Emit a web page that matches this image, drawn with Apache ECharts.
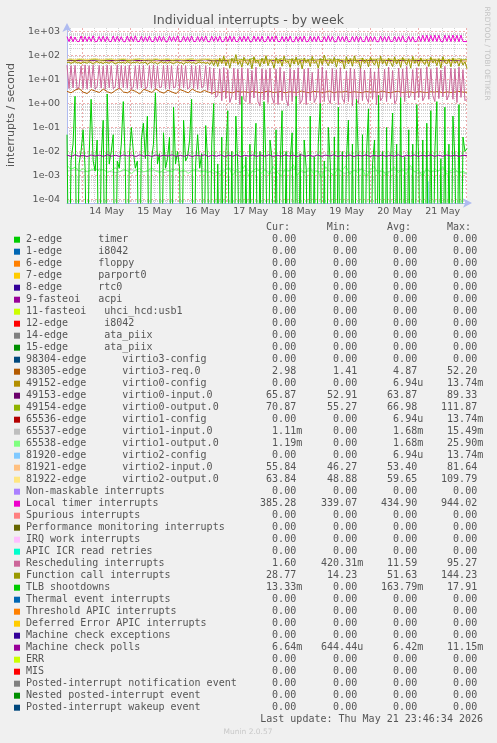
<!DOCTYPE html>
<html><head><meta charset="utf-8">
<script src="https://cdn.jsdelivr.net/npm/echarts@6/dist/echarts.min.js"></script>
<style>html,body{margin:0;padding:0;background:#F0F0F0;}#c{width:497px;height:743px;}</style>
</head><body><div id="c"></div>
<script>
// ---------------- data ----------------
const titleText = 'Individual interrupts - by week';
const yAxisTitle = 'interrupts / second';
const dayLabels = ['14 May','15 May','16 May','17 May','18 May','19 May','20 May','21 May'];
const dayNoonHours = [12,36,60,84,108,132,156,180];        // hours after 14 May 00:00
const dayStartHours = [0,24,48,72,96,120,144,168,192];
const yDecades = [-4,-3,-2,-1,0,1,2,3];                      // log10 of tick values
const tStart = -7.85, tEnd = 192.15;                          // visible time window (hours)
const yLogMin = -4.154, yLogMax = 3.153;

// legend table
const names = [
'2-edge      timer','1-edge      i8042','6-edge      floppy','7-edge      parport0','8-edge      rtc0',
'9-fasteoi   acpi','11-fasteoi   uhci_hcd:usb1','12-edge      i8042','14-edge      ata_piix','15-edge      ata_piix',
'98304-edge      virtio3-config','98305-edge      virtio3-req.0','49152-edge      virtio0-config',
'49153-edge      virtio0-input.0','49154-edge      virtio0-output.0','65536-edge      virtio1-config',
'65537-edge      virtio1-input.0','65538-edge      virtio1-output.0','81920-edge      virtio2-config',
'81921-edge      virtio2-input.0','81922-edge      virtio2-output.0',
'Non-maskable interrupts','Local timer interrupts','Spurious interrupts','Performance monitoring interrupts',
'IRQ work interrupts','APIC ICR read retries','Rescheduling interrupts','Function call interrupts','TLB shootdowns',
'Thermal event interrupts','Threshold APIC interrupts','Deferred Error APIC interrupts','Machine check exceptions',
'Machine check polls','ERR','MIS','Posted-interrupt notification event','Nested posted-interrupt event',
'Posted-interrupt wakeup event'];
const colors = ['#00CC00','#0066B3','#FF8000','#FFCC00','#330099','#990099','#CCFF00','#FF0000','#808080','#008F00',
'#00487D','#B35A00','#B38F00','#6B006B','#8FB300','#B30000','#BEBEBE','#80FF80','#80C9FF','#FFC080','#FFE680',
'#AA80FF','#EE00CC','#FF8080','#666600','#FFBFFF','#00FFCC','#CC6699','#999900','#00CC00','#0066B3','#FF8000',
'#FFCC00','#330099','#990099','#CCFF00','#FF0000','#808080','#008F00','#00487D'];
const curVals = [0,0,0,0,0,0,0,0,0,0, 0,2.98,0,65.87,70.87,0,1.11e-3,1.19e-3,0,55.84,63.84,
0,385.28,0,0,0,0,1.60,28.77,13.33e-3,0,0,0,0,6.64e-3,0,0,0,0,0];
const minVals = [0,0,0,0,0,0,0,0,0,0, 0,1.41,0,52.91,55.27,0,0,0,0,46.27,48.88,
0,339.07,0,0,0,0,420.31e-3,14.23,0,0,0,0,0,644.44e-6,0,0,0,0,0];
const avgVals = [0,0,0,0,0,0,0,0,0,0, 0,4.87,6.94e-6,63.87,66.98,6.94e-6,1.68e-3,1.68e-3,6.94e-6,53.40,59.65,
0,434.90,0,0,0,0,11.59,51.63,163.79e-3,0,0,0,0,6.42e-3,0,0,0,0,0];
const maxVals = [0,0,0,0,0,0,0,0,0,0, 0,52.20,13.74e-3,89.33,111.87,13.74e-3,15.49e-3,25.90e-3,13.74e-3,81.64,109.79,
0,944.02,0,0,0,0,95.27,144.23,17.91,0,0,0,0,11.15e-3,0,0,0,0,0];
const lastUpdate = 'Last update: Thu May 21 23:46:34 2026';

// plotted series (evenly spread over the time window)
const locTimer = [
620,385,640,380,600,390,385,660,380,630, 385,620,390,670,380,395,630,385,650,380,
620,390,385,660,380,635,390,620,385,380, 655,390,625,380,670,385,390,640,380,620,
385,650,390,385,620,380,660,390,630,385, 380,650,390,620,385,670,380,390,645,385,
620,380,655,390,385,630,380,620,390,660, 385,380,645,390,625,385,650,380,390,620,
385,665,380,630,390,385,620,380,655,390, 630,385,380,660,390,620,385,645,380,390,
650,385,625,380,670,390,385,630,380,620, 390,655,385,380,630,390,620,385,660,380,
390,645,385,620,380,650,390,385,625,380, 670,390,630,385,380,650,390,620,385,660,
380,390,630,385,650,380,620,390,385,665, 380,630,390,620,385,380,655,390,625,380,
650,385,390,630,380,620,385,670,390,380, 645,385,620,380,390,650,385,700,390,710,
380,690,395,720,385,700,390,380,710,390, 690,385,720,390,700,380,710,390,385,385.28];
const resched = [
40,4.2,38,4.5,39,4.0,5.0,37,4.3,41, 4.1,38,4.6,40,4.0,5.2,39,4.4,37,4.0,
40,4.5,38,4.2,5.0,41,4.1,39,4.6,37, 4.3,40,4.0,4.8,38,4.2,40,4.5,39,4.0,
5.1,38,4.3,41,4.1,37,4.6,4.9,39,4.2, 40,4.0,38,4.5,5.0,37,4.2,40,4.4,38,
4.1,4.7,39,4.3,37,4.0,40,4.6,5.2,38, 3.5,33,2.4,30,1.8,2.2,28,1.3,32,1.6,
26,1.1,2.0,30,1.4,27,0.9,31,1.5,1.2, 29,1.0,24,1.7,33,1.2,0.8,28,1.4,26,
1.1,30,1.8,1.0,27,0.9,32,1.3,22,1.5, 0.8,29,1.2,25,1.6,31,1.0,1.4,27,0.9,
30,1.3,20,1.1,1.7,28,0.8,33,1.2,24, 1.5,1.0,29,1.3,26,0.9,31,1.6,1.1,23,
1.2,30,0.8,27,1.4,1.0,32,1.3,25,1.7, 1.1,29,1.5,21,0.9,30,1.3,1.8,27,1.2,
33,1.6,24,1.0,1.4,30,1.9,28,1.2,35, 1.7,2.2,26,1.4,31,1.8,29,1.3,2.0,34,
1.5,27,2.1,1.2,32,1.6,25,1.9,36,1.4, 2.3,30,1.5,28,1.1,33,1.8,26,1.3,1.6];
const funcCall = [
50,54,47,52,56,49,51,46,54,52, 48,55,51,44,53,57,49,52,46,54,
51,48,56,52,45,50,54,49,53,47, 55,51,48,53,50,56,46,52,49,54,
42,50,55,48,52,44,51,57,49,53, 47,54,50,46,52,55,49,51,43,54,
50,56,48,52,45,51,54,49,53,46, 52,42,58,38,66,35,80,46,95,38,
65,30,75,50,110,42,60,33,85,55, 40,72,28,90,50,62,35,78,45,100,
38,68,55,30,82,47,70,36,95,52, 60,32,75,44,88,40,65,28,80,50,
70,35,92,48,58,30,76,42,105,55, 38,68,46,85,33,72,50,62,28,90,
45,75,36,98,52,64,30,80,48,70, 34,86,55,40,72,30,95,46,66,38,
78,52,35,88,44,70,32,84,58,40, 74,30,92,48,65,36,80,55,42,70,
35,86,50,68,38,75,30,90,52,45, 72,34,80,48,62,36,70,40,55,28.77];
const tlbShootdowns = [
0.05,0,0.004,0.02,2.0,0,0.003,0.01,0.08,0.002, 0,0.006,1.5,0.004,0.0015,0.03,0,0.005,0.2,0,
2.5,0.003,0.01,0.05,0,0.004,0.002,0.02,1.2,0.003, 0,0.006,0.1,0.01,0.002,0.004,0,0.03,0.15,0.005,
0.3,0,0.004,0.02,2.8,0.003,0.008,0,0.06,0.002, 0.005,0.04,0,0.7,0.003,0.01,0.002,0,0.2,0.004,
0.006,0.03,1.5,0,0.003,0.05,0.002,0.008,0,0.12, 0.004,0,0.02,1.0,0,0.003,0,0.04,0,0.008,
0.5,0,0.01,0,0.3,0.002,0,2.0,0,0.006, 0,0.02,0,0.004,0.15,0,0.01,0,1.2,0.003,
0,0.03,0.005,0,0.08,0,0.002,0.5,0,0.01, 0,0.004,0.06,0,2.0,0,0.008,0,0.03,0.002,
0,0.3,0,0.006,0,0.02,1.0,0,0.004,0, 0.1,0.003,0,0.04,0,0.7,0,0.01,0,0.005,
0.2,0,0.02,0,1.5,0.004,0,0.05,0,0.008, 0.6,0,0.003,0.03,0,2.2,0,0.01,0,0.1,
0,0.005,0.4,0,0.02,0,1.8,0,0.006,0, 0.08,0,0.02,0,0.9,0.004,0,0.03,0,0.15,
0,0.5,0,0.01,1.2,0,0.005,0,0.7,0, 0.02,0,0.3,0.004,0,0.9,0,0.04,0.01,0.01333];
const virtio0Out = [
66,68,64,70,67,65,69,72,66,64, 68,71,65,67,70,63,66,69,72,65, 67,64,70,68,66,71,63,67,69,65,
68,72,66,64,70,67,65,69,63,68, 66,73,62,70,65,68,75,61,67,71, 64,69,66,74,62,68,70,65,72,63,
67,71,64,69,66,73,62,70,68,65, 71,64,67,75,63,69,66,72,65,68, 70,62,67,73,64,69,66,71,63,68,
72,65,67,70,64,69,66,73,68,70.87];
const virtio0In = [
64,62,65,63,66,61,64,63,65,62, 64,66,61,63,65,62,64,67,60,63, 65,62,64,61,66,63,62,65,64,61,
63,66,62,64,60,65,63,62,66,64, 61,63,65,62,64,66,61,63,64,65.87];
const virtio2In = [
54,52,55,53,51,56,54,52,55,53, 52,55,53,51,54,56,52,53,55,51, 54,53,56,52,50,55,53,54,51,56,
53,52,55,54,51,53,56,52,54,50, 55,53,51,56,52,54,53,50,55,52, 56,51,54,53,49,55,52,57,51,54,
53,50,56,52,55,51,54,57,50,53, 55,52,49,56,53,51,55,52,54,50, 56,53,51,55,52,57,50,54,53,51,
55,52,56,50,54,53,51,55,53,55.84];
const virtio2Out = [
70,72,69,73,71,68,72,74,70,69, 73,71,68,72,74,70,69,73,71,67, 72,70,74,69,71,73,68,72,70,69,
73,71,67,72,70,74,68,71,69,72, 66,64,68,62,67,65,61,69,63,66, 64,68,62,70,65,63,67,61,66,69,
63,67,65,60,68,64,66,62,69,65, 70,72,68,73,66,71,74,67,72,69, 73,70,68,74,71,67,72,70,73,68,
71,74,69,72,67,70,73,68,66,63.84];
const virtio3Req = [
3.2,2.8,3.6,4.2,3.0,2.6,3.8,3.3,2.9,4.0, 3.1,2.7,3.5,4.4,3.0,2.8,3.7,3.2,2.5,3.9,
3.4,2.9,4.1,3.1,2.7,3.6,3.0,2.6,3.8,3.3, 2.8,4.0,3.2,2.9,3.5,3.0,2.7,3.1,2.9,3.2,
3.0,2.8,3.3,3.0,3.1,2.9,3.2,3.0,2.8,3.1, 3.3,2.9,3.0,3.2,2.8,3.1,3.0,2.9,3.3,3.0,
2.8,3.2,3.1,2.9,3.0,3.3,2.8,3.1,3.0,3.2, 2.9,3.1,3.0,2.8,3.2,3.0,3.1,2.9,3.3,3.0,
2.8,3.1,3.2,2.9,3.0,3.1,2.8,3.2,3.0,2.9, 3.1,3.0,3.2,2.8,3.1,2.9,3.0,3.2,3.0,2.98];
const virtio1OutMilli = [
2.6,1.8,2.2,1.5,1.9,1.4,1.7,2.0,1.5,1.8, 1.3,1.6,2.1,1.4,1.8,1.5,1.2,1.7,1.9,1.4,
1.6,2.0,1.5,1.3,1.8,1.6,1.4,1.9,1.5,1.7, 1.2,1.6,1.8,1.4,1.5,1.3,1.7,1.4,1.1,1.5,
2.2,1.0,1.8,1.3,2.6,0.9,1.6,2.0,1.2,1.7, 1.1,2.4,1.4,0.9,1.9,1.5,2.8,1.0,1.7,1.3,
2.1,1.2,1.6,0.8,2.3,1.4,1.0,1.9,1.5,2.5, 1.1,1.7,1.3,2.0,0.9,1.6,2.4,1.2,1.8,1.0,
1.5,2.2,1.3,1.9,1.1,2.6,1.4,1.7,0.9,2.0, 1.3,1.8,1.5,2.3,1.1,1.6,1.9,1.2,1.5,1.19];
const virtio1InMilli = [
1.5,1.7,1.4,1.6,1.8,1.5,1.3,1.6,1.7,1.4, 1.5,1.6,1.3,1.8,1.4,1.6,1.5,1.7,1.2,1.6,
1.9,1.3,1.7,1.4,2.0,1.2,1.6,1.5,1.8,1.3, 1.7,1.4,1.6,1.9,1.2,1.5,1.8,1.4,1.6,1.3,
1.7,1.5,1.9,1.2,1.6,1.4,1.8,1.3,1.5,1.11];
const mcePollsMilli = [
7.0,6.2,7.2,6.3,6.9,6.1,7.1,6.4,7.0,6.2, 7.3,6.3,6.9,6.2,7.1,6.4,7.0,6.1,7.2,6.3,
6.9,6.2,7.1,6.3,7.0,6.4,7.2,6.2,6.9,6.3, 7.1,6.1,7.0,6.4,7.2,6.2,6.9,6.3,7.1,6.2,
7.0,6.3,7.2,6.1,6.9,6.4,7.1,6.2,7.0,6.3, 7.2,6.2,6.9,6.3,7.1,6.4,7.0,6.1,7.2,6.3,
6.9,6.2,7.1,6.3,7.0,6.4,7.2,6.2,6.9,6.3, 7.1,6.1,7.0,6.4,7.2,6.2,6.9,6.3,7.1,6.2,
7.0,6.3,7.2,6.1,6.9,6.4,7.1,6.2,7.0,6.3, 7.2,6.2,6.9,6.3,7.1,6.4,7.0,6.2,6.9,6.64];
const virtio2CfgPts = [[-7.85,0],[172.15,0],[172.65,5.6e-4],[173.15,0],[192.15,0]];

// ---------------- build ----------------
const toLog = v => v > 0 ? Math.log10(v) : -9;
function spread(vals, scale) {
  const n = vals.length;
  return vals.map((v, i) => [tStart + i * (tEnd - tStart) / (n - 1), toLog(v * scale)]);
}
const MAJOR = 'rgba(225,105,105,0.55)';
const MINOR = 'rgba(150,150,150,0.45)';
const AXIS = '#AFBBF0';
const FONT = '#555';

const minorHours = [];
for (let h = -6; h <= 192; h += 6) if (h % 24 !== 0 && h > tStart && h < tEnd) minorHours.push(h);
const minorLogs = [];
for (let k = -5; k <= 3; k++) for (let m = 2; m <= 9; m++) { const v = k + Math.log10(m); if (v > yLogMin && v < yLogMax) minorLogs.push(v); }

function mk(name, data, color) {
  return { name, type: 'line', data, showSymbol: false, symbol: 'none', clip: true, silent: true,
    lineStyle: { color, width: 1 }, itemStyle: { color } };
}
const series = [
  mk('virtio3-req.0', spread(virtio3Req, 1), colors[11]),
  mk('virtio0-input.0', spread(virtio0In, 1), colors[13]),
  mk('virtio0-output.0', spread(virtio0Out, 1), colors[14]),
  mk('virtio1-input.0', spread(virtio1InMilli, 1e-3), colors[16]),
  mk('virtio1-output.0', spread(virtio1OutMilli, 1e-3), colors[17]),
  mk('virtio2-config', virtio2CfgPts.map(p => [p[0], toLog(p[1])]), colors[18]),
  mk('virtio2-input.0', spread(virtio2In, 1), colors[19]),
  mk('virtio2-output.0', spread(virtio2Out, 1), colors[20]),
  mk('LOC', spread(locTimer, 1), colors[22]),
  mk('RES', spread(resched, 1), colors[27]),
  mk('CAL', spread(funcCall, 1), colors[28]),
  mk('TLB', spread(tlbShootdowns, 1), colors[29]),
  mk('MCP', spread(mcePollsMilli, 1e-3), colors[34])
];

function fmt(v) {
  if (v === 0) return '0.00 ';
  if (v >= 1) return v.toFixed(2) + ' ';
  if (v >= 1e-3) return (v * 1e3).toFixed(2) + 'm';
  return (v * 1e6).toFixed(2) + 'u';
}
const MONO = '10px "DejaVu Sans Mono", monospace';
function txt(x, y, text, opts) {
  const o = Object.assign({ align: 'left', vAlign: 'middle', font: MONO, fill: FONT, rotation: 0 }, opts || {});
  return { type: 'text', x, y, rotation: o.rotation, silent: true,
    style: { text, font: o.font, fill: o.fill, align: o.align, textAlign: o.align, verticalAlign: o.vAlign, textVerticalAlign: o.vAlign } };
}
const graphics = [];
graphics.push(txt(11, 115, yAxisTitle, { font: '11px "DejaVu Sans"', align: 'center', rotation: Math.PI / 2 }));
graphics.push(txt(487, 53.5, 'RRDTOOL / TOBI OETIKER', { font: '7.3px "DejaVu Sans"', align: 'center', fill: '#c4c4c4', rotation: -Math.PI / 2 }));
const colRight = [302.2, 363.2, 423.2, 483.2];
const headRight = [290, 350.8, 411, 471];
['Cur:', 'Min:', 'Avg:', 'Max:'].forEach((h, c) => graphics.push(txt(headRight[c], 227.7, h, { align: 'right' })));
names.forEach((nm, k) => {
  const y = 239.7 + 12 * k;
  graphics.push({ type: 'rect', silent: true, shape: { x: 14, y: y - 3, width: 6, height: 6 }, style: { fill: colors[k] } });
  graphics.push(txt(26, y, nm));
  [curVals, minVals, avgVals, maxVals].forEach((arr, c) => graphics.push(txt(colRight[c], y, fmt(arr[k]), { align: 'right' })));
});
graphics.push(txt(483, 719.5, lastUpdate, { align: 'right' }));
graphics.push(txt(248, 732, 'Munin 2.0.57', { font: '7.5px "DejaVu Sans"', align: 'center', fill: '#c8c8c8' }));

const option = {
  animation: false,
  backgroundColor: '#F0F0F0',
  title: { text: titleText, left: 'center', top: 9, textStyle: { color: FONT, fontSize: 12.5, fontWeight: 'normal', fontFamily: 'DejaVu Sans' } },
  grid: { left: 67, right: 30, top: 28, bottom: 540, show: true, backgroundColor: '#FFFFFF', borderWidth: 0 },
  xAxis: [
    { type: 'value', min: tStart, max: tEnd, position: 'bottom',
      axisLine: { show: true, onZero: false, lineStyle: { color: AXIS, width: 1 }, symbol: ['none', 'arrow'], symbolSize: [7, 9], symbolOffset: [0, 5] },
      axisTick: { show: false, customValues: dayStartHours },
      axisLabel: { show: true, customValues: dayNoonHours, formatter: v => dayLabels[dayNoonHours.indexOf(v)] || '', color: FONT, fontSize: 9.5, fontFamily: 'DejaVu Sans', margin: 4 },
      splitLine: { show: true, lineStyle: { color: MAJOR, type: [2, 2], width: 1 } } },
    { type: 'value', min: tStart, max: tEnd, position: 'top',
      axisLine: { show: false }, axisTick: { show: false, customValues: minorHours }, axisLabel: { show: false },
      splitLine: { show: true, lineStyle: { color: MINOR, type: [1, 1], width: 1 } } }
  ],
  yAxis: [
    { type: 'value', min: yLogMin, max: yLogMax, position: 'left',
      axisLine: { show: true, onZero: false, lineStyle: { color: AXIS, width: 1 }, symbol: ['none', 'arrow'], symbolSize: [7, 9], symbolOffset: [0, 5] },
      axisTick: { show: false, customValues: yDecades },
      axisLabel: { show: true, customValues: yDecades, formatter: v => '1e' + (v < 0 ? '-' : '+') + String(Math.abs(Math.round(v))).padStart(2, '0'), color: FONT, fontSize: 9.5, fontFamily: 'DejaVu Sans', margin: 7 },
      splitLine: { show: true, lineStyle: { color: MAJOR, type: [2, 2], width: 1 } } },
    { type: 'value', min: yLogMin, max: yLogMax, position: 'right',
      axisLine: { show: false }, axisTick: { show: false, customValues: minorLogs }, axisLabel: { show: false },
      splitLine: { show: true, lineStyle: { color: MINOR, type: [1, 1], width: 1 } } }
  ],
  series,
  graphic: { elements: graphics }
};
const chart = echarts.init(document.getElementById('c'), null, { renderer: 'canvas' });
chart.setOption(option);
</script></body></html>
